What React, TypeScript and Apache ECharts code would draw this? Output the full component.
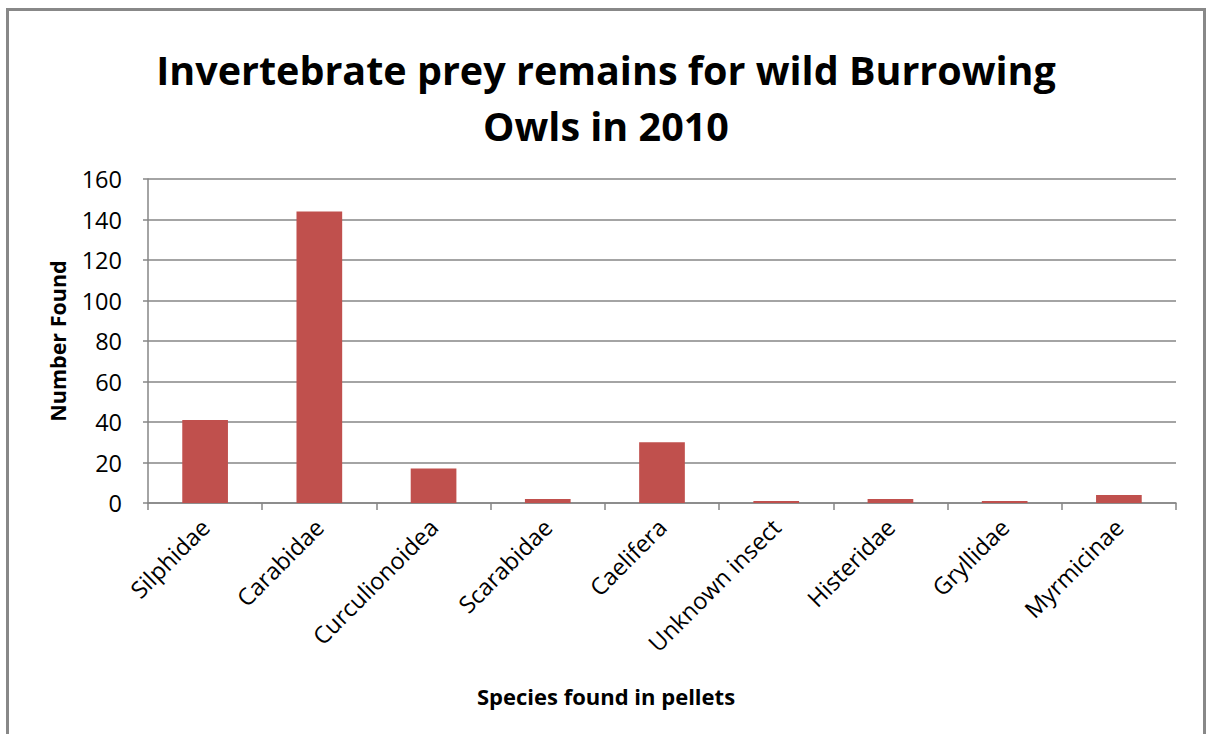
import React, { useEffect, useRef } from "react";
import * as echarts from "echarts";

const categories = [
  "Silphidae",
  "Carabidae",
  "Curculionoidea",
  "Scarabidae",
  "Caelifera",
  "Unknown insect",
  "Histeridae",
  "Gryllidae",
  "Myrmicinae",
];
const counts = [41, 144, 17, 2, 30, 1, 2, 1, 4];

const titleText = "Invertebrate prey remains for wild Burrowing\nOwls in 2010";
const xName = "Species found in pellets";
const yName = "Number Found";

const FONT = "'Open Sans', sans-serif";

export default function App() {
  const ref = useRef<HTMLDivElement>(null);

  useEffect(() => {
    if (!ref.current) return;
    const chart = echarts.init(ref.current, null, { renderer: "svg" });
    chart.setOption({
      animation: false,
      backgroundColor: "#ffffff",
      title: [
        {
          text: titleText,
          left: "center",
          top: 26,
          textStyle: {
            fontFamily: FONT,
            fontSize: 39.5,
            fontWeight: "bold",
            color: "#000",
            lineHeight: 56,
          },
        },
        {
          // horizontal axis title, centred on the whole chart
          text: xName,
          left: "center",
          top: 669,
          textStyle: { fontFamily: FONT, fontSize: 22, fontWeight: "bold", color: "#000" },
        },
      ],
      grid: { left: 139, right: 27, top: 168, bottom: 242, containLabel: false },
      xAxis: {
        type: "category",
        data: categories,
        axisLine: { lineStyle: { color: "#868686", width: 1.5 } },
        axisTick: { show: true, interval: 0, alignWithLabel: false, length: 7, lineStyle: { color: "#868686", width: 1.5 } },
        axisLabel: {
          interval: 0,
          rotate: 45,
          margin: 20,
          fontFamily: FONT,
          fontSize: 23.5,
          color: "#000",
        },
      },
      yAxis: {
        type: "value",
        min: 0,
        max: 160,
        interval: 20,
        name: yName,
        nameLocation: "middle",
        nameGap: 80,
        nameRotate: 90,
        nameTextStyle: { fontFamily: FONT, fontSize: 21.5, fontWeight: "bold", color: "#000" },
        axisLine: { show: true, lineStyle: { color: "#868686", width: 1.5 } },
        axisTick: { show: true, length: 5, lineStyle: { color: "#868686", width: 1.5 } },
        axisLabel: { margin: 26, fontFamily: FONT, fontSize: 23.5, color: "#000" },
        splitLine: { lineStyle: { color: "#868686", width: 1.5 } },
      },
      series: [
        {
          type: "bar",
          data: counts,
          barWidth: "40%",
          itemStyle: { color: "#C0504D" },
        },
      ],
    });
    return () => chart.dispose();
  }, []);

  return (
    <div
      style={{
        position: "absolute",
        left: 6,
        top: 8,
        width: 1200,
        height: 740,
        border: "3px solid #888888",
        boxSizing: "border-box",
        background: "#fff",
      }}
    >
      <div ref={ref} style={{ width: 1194, height: 734 }} />
    </div>
  );
}
